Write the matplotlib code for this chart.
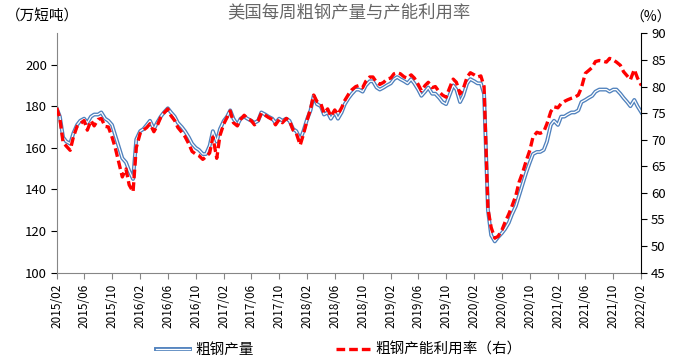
import pandas as pd
import matplotlib.pyplot as plt
import matplotlib.dates as mdates
import matplotlib.patheffects as pe

plt.rcParams['font.family'] = ['Noto Sans CJK SC', 'DejaVu Sans']

# semi-monthly readings, 2015/02 - 2022/02
dates = pd.date_range('2015-02-01', '2022-02-01', freq='SMS')

# 粗钢产量 (万短吨)
output = [
    179, 175, 165, 163, 162, 167, 171, 173, 174, 172, 175, 176, 176, 177, 174, 173,
    171, 166, 160, 155, 153, 149, 145, 164, 168, 169, 171, 173, 169, 172, 175, 177,
    179, 177, 175, 172, 170, 168, 165, 162, 160, 159, 157, 157, 161, 168, 163, 169,
    173, 175, 178, 174, 171, 174, 175, 174, 173, 172, 173, 177, 176, 175, 174, 172,
    174, 173, 174, 173, 169, 168, 164, 168, 174, 178, 185, 181, 180, 176, 177, 174,
    177, 174, 177, 181, 184, 186, 188, 188, 187, 190, 192, 192, 189, 188, 189, 190,
    191, 193, 194, 193, 192, 191, 193, 191, 188, 185, 187, 189, 186, 186, 184, 182,
    181, 185, 190, 188, 182, 185, 191, 193, 192, 191, 191, 186, 130, 118, 115, 117,
    119, 121, 124, 128, 132, 137, 143, 148, 153, 157, 158, 158, 159, 163, 171, 173,
    171, 175, 175, 176, 177, 177, 178, 182, 183, 184, 185, 187, 188, 188, 188, 187,
    188, 188, 186, 184, 182, 180, 183, 180, 177,
]

# 粗钢产能利用率 (%)
utilization = [
    76.0, 74.0, 69.5, 68.8, 68.0, 70.5, 72.5, 73.0, 73.6, 71.8, 73.6, 72.6, 73.8, 74.0, 72.5, 72.4,
    70.5, 68.5, 65.5, 63.0, 64.5, 61.5, 60.2, 68.5, 71.2, 71.8, 72.3, 73.0, 71.5, 72.6, 74.2, 75.0,
    75.8, 74.5, 73.6, 72.3, 71.4, 70.6, 69.2, 67.8, 67.3, 67.0, 66.3, 66.8, 67.5, 70.5, 66.5, 70.8,
    73.0, 74.2, 75.4, 73.2, 72.6, 73.8, 74.6, 74.0, 73.6, 72.8, 73.6, 75.0, 74.6, 74.2, 73.8, 72.8,
    73.8, 73.2, 74.0, 73.6, 71.8, 71.2, 69.0, 71.0, 73.8, 75.8, 78.4, 77.2, 76.8, 75.0, 75.8, 74.4,
    75.6, 74.8, 76.0, 77.4, 78.6, 79.4, 80.0, 80.2, 79.8, 81.0, 81.8, 81.8, 80.8, 80.4, 80.8, 81.4,
    81.6, 82.4, 82.6, 82.4, 81.8, 81.6, 82.2, 81.6, 80.4, 79.2, 80.2, 80.8, 79.8, 80.0, 79.0, 78.4,
    78.0, 79.6, 81.4, 80.8, 78.6, 79.6, 81.8, 82.6, 82.2, 81.8, 82.0, 80.0, 57.0, 53.5, 51.5, 51.8,
    53.0, 54.5, 56.0, 57.5, 59.5, 62.0, 64.0, 66.0, 68.0, 70.5, 71.4, 71.2, 71.5, 73.0, 75.3, 76.2,
    76.0, 76.8, 77.2, 77.5, 77.8, 78.0, 78.4, 79.8, 82.5, 83.0, 83.6, 84.7, 84.9, 84.8, 84.6, 85.3,
    85.0, 84.6, 84.0, 82.8, 82.0, 81.3, 83.2, 81.6, 80.2,
]

blue = '#4f81bd'

fig = plt.figure(figsize=(6.78, 3.63), dpi=100)
ax = fig.add_axes([0.0836, 0.249, 0.8624, 0.659])
ax2 = ax.twinx()

l1, = ax.plot(dates, output, color='white', linewidth=0.9, label='粗钢产量',
              path_effects=[pe.Stroke(linewidth=2.8, foreground=blue), pe.Normal()])
l2, = ax2.plot(dates, utilization, color='#ff0000', linewidth=2.4, dashes=(2.6, 1.2),
               label='粗钢产能利用率（右）')

ax.set_ylim(100, 215)
ax.set_yticks(range(100, 201, 20))
ax2.set_ylim(45, 90)
ax2.set_yticks(range(45, 91, 5))
ax.set_xlim(dates[0], dates[-1])
ax.set_xticks(pd.date_range('2015-02-01', '2022-02-01', freq='4MS'))
ax.xaxis.set_major_formatter(mdates.DateFormatter('%Y/%m'))

for s in ['top', 'right']:
    ax.spines[s].set_visible(False)
for s in ['top', 'left', 'bottom']:
    ax2.spines[s].set_visible(False)
ax.spines['left'].set_color('#868686')
ax.spines['bottom'].set_color('#868686')
ax2.spines['right'].set_color('black')

ax.tick_params(axis='y', labelsize=9.5, length=4, color='black', pad=3)
ax.tick_params(axis='x', labelsize=8.5, length=4, color='#868686', rotation=90, pad=4)
ax2.tick_params(axis='y', labelsize=9.5, length=4, color='black', pad=3)

fig.text(0.515, 0.965, '美国每周粗钢产量与产能利用率', ha='center', va='center',
         fontsize=12.5, color='#666666')
fig.text(0.008, 0.953, '（万短吨）', ha='left', va='center', fontsize=10.5)
fig.text(0.959, 0.95, '（%）', ha='center', va='center', fontsize=10)

fig.legend([l1, l2], ['粗钢产量', '粗钢产能利用率（右）'], loc='center',
           bbox_to_anchor=(0.5, 0.036), ncol=2, frameon=False, fontsize=10.5,
           handlelength=2.3, columnspacing=5.6, handletextpad=0.4)

plt.savefig('out.png', dpi=100)
